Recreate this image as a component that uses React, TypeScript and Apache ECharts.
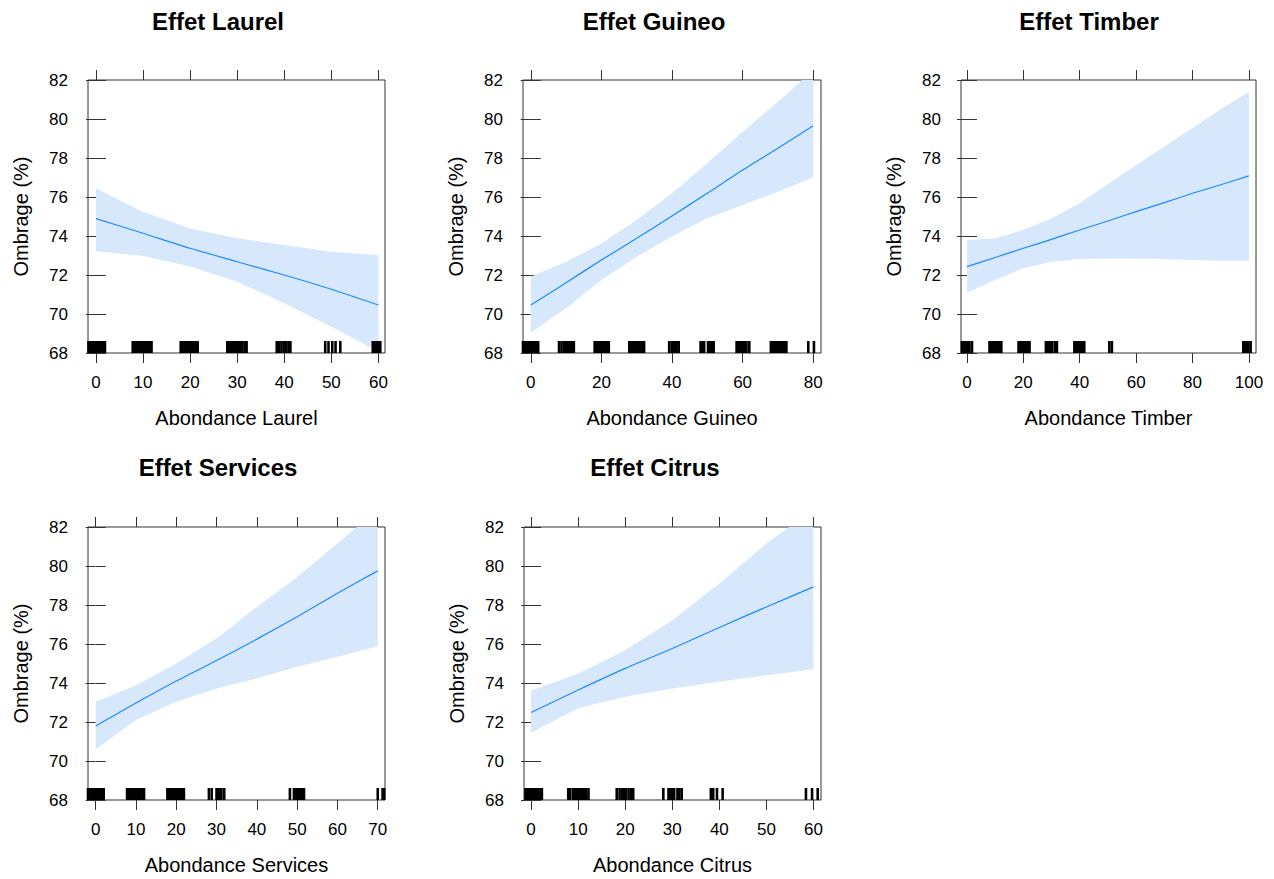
import React, { useEffect, useRef } from "react";
import * as echarts from "echarts";

// ---------- DATA ----------
const laurelX = [0, 10, 20, 30, 40, 50, 60];
const laurelFit = [74.89, 74.14, 73.37, 72.68, 72.0, 71.27, 70.46];
const laurelUpper = [76.45, 75.25, 74.39, 73.88, 73.54, 73.19, 73.03];
const laurelLower = [73.23, 72.97, 72.43, 71.66, 70.55, 69.35, 68.07];
const laurelRug = [
  -1.6, -1.2, -0.8, -0.4, 0.0, 0.4, 0.8, 1.1, 1.5, 1.9,
  7.8, 8.2, 8.6, 9.0, 9.4, 9.8, 10.2, 10.6, 11.0, 11.4, 11.8,
  18.0, 18.4, 18.8, 19.2, 19.6, 20.0, 20.4, 20.8, 21.2, 21.6,
  27.9, 28.3, 28.7, 29.1, 29.5, 29.9, 30.3, 30.7, 31.1, 31.6, 32.0,
  38.4, 38.9, 39.4, 39.9, 40.4, 40.9, 41.3,
  48.7, 49.4, 50.2, 50.9, 51.9,
  58.8, 59.3, 59.7, 60.1, 60.4,
];

const guineoX = [0, 10, 20, 30, 40, 50, 60, 70, 80];
const guineoFit = [70.46, 71.6, 72.77, 73.88, 75.03, 76.19, 77.38, 78.5, 79.66];
const guineoUpper = [71.91, 72.68, 73.62, 74.82, 76.19, 77.73, 79.35, 80.89, 82.5];
const guineoLower = [69.04, 70.29, 71.74, 72.94, 73.97, 74.91, 75.59, 76.27, 77.01];
const guineoRug = [
  -2.2, -1.7, -1.2, -0.7, -0.2, 0.3, 0.8, 1.3, 1.7, 2.1,
  8.0, 8.7, 9.4, 9.9, 10.4, 10.9, 11.4, 11.9, 12.2,
  18.1, 18.6, 19.1, 19.6, 20.1, 20.6, 21.1, 21.6, 22.1,
  27.9, 28.4, 28.9, 29.4, 29.9, 30.4, 30.9, 31.6, 32.1,
  39.2, 39.9, 40.3, 40.8, 41.3, 41.9,
  48.1, 48.6, 49.1, 50.2, 50.7, 51.4, 51.8,
  58.3, 58.8, 59.2, 59.7, 60.2, 60.6, 61.1, 61.9,
  68.0, 68.5, 69.0, 69.5, 70.0, 70.5, 70.9, 71.4, 71.9, 72.4,
  78.6, 80.2,
];

const timberX = [0, 10, 20, 30, 40, 50, 60, 70, 80, 90, 100];
const timberFit = [72.43, 72.9, 73.37, 73.83, 74.31, 74.77, 75.25, 75.71, 76.19, 76.63, 77.08];
const timberUpper = [73.79, 73.88, 74.31, 74.91, 75.68, 76.67, 77.64, 78.59, 79.54, 80.5, 81.4];
const timberLower = [71.09, 71.74, 72.34, 72.68, 72.82, 72.85, 72.85, 72.82, 72.77, 72.73, 72.73];
const timberRug = [
  -2.4, -1.8, -1.2, -0.6, 0.0, 0.6, 0.9, 1.8,
  8.0, 8.6, 9.2, 9.8, 10.4, 11.0, 11.6, 12.2,
  18.3, 18.9, 19.5, 20.1, 20.7, 21.3, 21.9, 22.2,
  28.0, 28.6, 29.2, 29.8, 30.3, 31.3, 31.9,
  38.1, 38.7, 39.3, 39.9, 40.5, 40.7, 41.6,
  50.5, 51.4,
  98.0, 98.6, 99.2, 99.8, 100.6,
];

const servicesX = [0, 10, 20, 30, 40, 50, 60, 70];
const servicesFit = [71.79, 72.97, 74.1, 75.15, 76.25, 77.4, 78.6, 79.75];
const servicesUpper = [73.04, 73.89, 75.0, 76.28, 77.9, 79.44, 81.15, 82.9];
const servicesLower = [70.6, 72.1, 73.04, 73.72, 74.23, 74.83, 75.34, 75.89];
const servicesRug = [
  -1.9, -1.5, -1.0, -0.6, -0.1, 0.3, 0.7, 1.1, 1.6, 2.0,
  7.8, 8.2, 8.6, 9.1, 9.5, 9.9, 10.3, 10.7, 11.1, 11.6, 12.0,
  17.8, 18.2, 18.6, 19.0, 19.4, 19.8, 20.2, 20.6, 21.0, 21.5, 21.9,
  28.1, 28.8, 30.0, 30.4, 30.8, 31.2, 31.9,
  48.2, 49.2, 49.7, 50.1, 50.5, 50.9, 51.3, 51.7,
  70.0, 71.2, 71.6,
];

const citrusX = [0, 10, 20, 30, 40, 50, 60];
const citrusFit = [72.49, 73.64, 74.75, 75.77, 76.85, 77.9, 78.93];
const citrusUpper = [73.6, 74.49, 75.68, 77.22, 79.1, 81.15, 82.9];
const citrusLower = [71.45, 72.7, 73.29, 73.72, 74.06, 74.4, 74.7];
const citrusRug = [
  -1.6, -1.2, -0.8, -0.4, 0.0, 0.4, 0.8, 1.2, 1.6, 2.0, 2.3,
  7.9, 8.3, 8.9, 9.3, 9.7, 10.1, 10.5, 10.9, 11.3, 11.7, 12.2,
  18.2, 18.8, 19.3, 19.5, 19.8, 20.1, 20.7, 21.2, 21.7,
  28.1, 29.2, 29.6, 30.0, 30.4, 31.1, 31.5, 32.0,
  38.2, 38.7, 39.5, 40.7,
  58.4, 59.7, 60.9,
];

const yTicksMin = 68;
const yTicksMax = 82;
const yTickStep = 2;
const yLabel = "Ombrage (%)";

const ticks60 = [0, 10, 20, 30, 40, 50, 60];
const ticks80 = [0, 20, 40, 60, 80];
const ticks100 = [0, 20, 40, 60, 80, 100];
const ticks70 = [0, 10, 20, 30, 40, 50, 60, 70];

// ---------- LAYOUT ----------
const FONT = "'Liberation Sans', Arial, sans-serif";
const LINE_COL = "#333";

const panels = [
  { title: "Effet Laurel", xName: "Abondance Laurel", xs: laurelX, fit: laurelFit, upper: laurelUpper, lower: laurelLower, rug: laurelRug, xMin: -1.7, xMax: 61.4, ticks: ticks60, left: 88, top: 80, width: 297, titleX: 218, titleY: 21 },
  { title: "Effet Guineo", xName: "Abondance Guineo", xs: guineoX, fit: guineoFit, upper: guineoUpper, lower: guineoLower, rug: guineoRug, xMin: -2.2, xMax: 82.2, ticks: ticks80, left: 523, top: 80, width: 298, titleX: 654, titleY: 21 },
  { title: "Effet Timber", xName: "Abondance Timber", xs: timberX, fit: timberFit, upper: timberUpper, lower: timberLower, rug: timberRug, xMin: -2.1, xMax: 102.5, ticks: ticks100, left: 961, top: 80, width: 295, titleX: 1089, titleY: 21 },
  { title: "Effet Services", xName: "Abondance Services", xs: servicesX, fit: servicesFit, upper: servicesUpper, lower: servicesLower, rug: servicesRug, xMin: -1.9, xMax: 71.8, ticks: ticks70, left: 88, top: 527, width: 297, titleX: 218, titleY: 467 },
  { title: "Effet Citrus", xName: "Abondance Citrus", xs: citrusX, fit: citrusFit, upper: citrusUpper, lower: citrusLower, rug: citrusRug, xMin: -1.5, xMax: 61.6, ticks: ticks60, left: 524, top: 527, width: 297, titleX: 655, titleY: 467 },
];
const PANEL_H = 273;

function buildOption() {
  const grid: any[] = [];
  const xAxis: any[] = [];
  const yAxis: any[] = [];
  const series: any[] = [];
  const graphic: any[] = [];

  panels.forEach((p, i) => {
    grid.push({
      left: p.left, top: p.top, width: p.width, height: PANEL_H,
      show: true, borderColor: LINE_COL, borderWidth: 1, backgroundColor: "transparent",
    });
    const tickCommon = { show: true, inside: false, length: 10, lineStyle: { color: LINE_COL, width: 1 } };
    xAxis.push({
      type: "value", gridIndex: i, position: "bottom", min: p.xMin, max: p.xMax,
      axisLine: { show: false },
      axisTick: { ...tickCommon, customValues: p.ticks },
      axisLabel: { show: true, customValues: p.ticks, fontSize: 17, color: "#000", fontFamily: FONT, margin: 21 },
      splitLine: { show: false },
      name: p.xName, nameLocation: "middle", nameGap: 55,
      nameTextStyle: { fontSize: 20, color: "#000", fontFamily: FONT },
    });
    xAxis.push({
      type: "value", gridIndex: i, position: "top", min: p.xMin, max: p.xMax,
      axisLine: { show: false },
      axisTick: { ...tickCommon, customValues: p.ticks },
      axisLabel: { show: false },
      splitLine: { show: false },
    });
    yAxis.push({
      type: "value", gridIndex: i, position: "left", min: yTicksMin, max: yTicksMax, interval: yTickStep,
      axisLine: { show: false },
      axisTick: tickCommon,
      axisLabel: { show: true, fontSize: 17, color: "#000", fontFamily: FONT, margin: 20 },
      splitLine: { show: false },
      name: yLabel, nameLocation: "middle", nameGap: 57,
      nameTextStyle: { fontSize: 20, color: "#000", fontFamily: FONT },
    });
    yAxis.push({
      type: "value", gridIndex: i, position: "right", min: yTicksMin, max: yTicksMax, interval: yTickStep,
      axisLine: { show: false },
      axisTick: tickCommon,
      axisLabel: { show: false },
      splitLine: { show: false },
    });

    const xi = 2 * i;
    const yi = 2 * i;
    // confidence band as a polygon through the axes' scales
    const bandData = p.xs.map((x, k) => [x, p.lower[k], p.upper[k]]);
    series.push({
      type: "custom", xAxisIndex: xi, yAxisIndex: yi,
      data: bandData, clip: true, silent: true, z: 1,
      encode: { x: 0, y: [1, 2] },
      renderItem: (params: any, api: any) => {
        if (params.dataIndex !== 0) return null;
        const top = bandData.map((d) => api.coord([d[0], d[2]]));
        const bot = bandData.map((d) => api.coord([d[0], d[1]])).reverse();
        return {
          type: "polygon",
          shape: { points: top.concat(bot) },
          style: { fill: "#d7e8fc", stroke: "none" },
        };
      },
    });
    series.push({
      type: "line", xAxisIndex: xi, yAxisIndex: yi,
      data: p.xs.map((x, k) => [x, p.fit[k]]),
      showSymbol: false, symbol: "none", smooth: 0.2,
      lineStyle: { color: "#1e88ff", width: 1.2 }, z: 3,
    });
    series.push({
      type: "scatter", xAxisIndex: xi, yAxisIndex: yi,
      data: p.rug.map((x) => [x, yTicksMin]),
      symbol: "rect", symbolSize: [2.6, 12], symbolOffset: [0, -6],
      itemStyle: { color: "#000", opacity: 1 }, silent: true, z: 4,
    });

    graphic.push({
      type: "text", x: p.titleX, y: p.titleY,
      style: { text: p.title, align: "center", verticalAlign: "middle", fontSize: 24, fontWeight: "bold", fontFamily: FONT, fill: "#000" },
    });
  });

  return { animation: false, backgroundColor: "#fff", grid, xAxis, yAxis, series, graphic };
}

export default function App() {
  const ref = useRef<HTMLDivElement>(null);
  useEffect(() => {
    if (!ref.current) return;
    const chart = echarts.init(ref.current, undefined, { renderer: "svg" });
    chart.setOption(buildOption());
    return () => chart.dispose();
  }, []);
  return (
    <div
      ref={ref}
      style={{ position: "fixed", left: 0, top: 0, width: 1274, height: 879, background: "#fff" }}
    />
  );
}
